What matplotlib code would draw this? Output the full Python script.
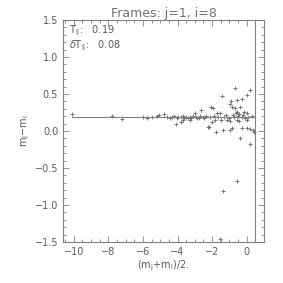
import matplotlib
matplotlib.use('Agg')
import matplotlib.pyplot as plt
import numpy as np
from matplotlib.ticker import MultipleLocator

# data
x_mean = [-10.1, -7.77, -7.19,
          -5.98, -5.75, -5.5, -5.2, -5.05,
          -4.76, -4.6, -4.45, -4.3, -4.2, -4.1, -4.05, -3.95, -3.82, -3.8,
          -3.7, -3.66, -3.6, -3.5, -3.4, -3.3, -3.26, -3.2, -3.1, -2.99,
          -2.95, -2.85, -2.75, -2.7, -2.62, -2.55, -2.45, -2.35, -2.24, -2.2,
          -2.15, -2.05, -2.02, -1.93, -1.9, -1.83, -1.75, -1.73, -1.65, -1.54,
          -1.47, -1.41, -1.39, -1.3, -1.2, -1.12, -1.05, -0.97, -0.97, -0.97,
          -0.91, -0.87, -0.87, -0.8, -0.75, -0.68, -0.68, -0.62, -0.56, -0.54,
          -0.54, -0.5, -0.45, -0.45, -0.39, -0.37, -0.3, -0.27, -0.25, -0.2,
          -0.14, -0.1, 0.0, 0.0, 0.0, 0.02, 0.1, 0.19, 0.21, 0.21, 0.3, 0.35, 0.4,
          -1.35, -0.54, -1.53]
y_diff = [0.23, 0.20, 0.165,
          0.19, 0.18, 0.19, 0.20, 0.22,
          0.23, 0.19, 0.18, 0.19, 0.20, 0.10, 0.18, 0.19, 0.125, 0.19,
          0.20, 0.15, 0.18, 0.19, 0.17, 0.19, 0.15, 0.18, 0.20, 0.25,
          0.19, 0.18, 0.17, 0.20, 0.28, 0.19, 0.17, 0.20, 0.05, 0.05,
          0.19, 0.32, 0.12, 0.31, 0.20, 0.15, -0.01, 0.24, 0.19, 0.25,
          0.15, 0.47, 0.02, 0.19, 0.21, 0.15, 0.18, 0.36, 0.13, 0.01,
          0.40, 0.32, 0.04, 0.22, 0.19, 0.58, 0.31, 0.24, 0.15, 0.42,
          0.26, 0.20, 0.23, 0.13, 0.33, -0.09, 0.19, 0.04, 0.43, 0.21,
          0.26, 0.17, 0.24, 0.15, 0.04, 0.48, 0.19, -0.18, 0.55, 0.03, 0.20, 0.01, -0.01,
          -0.81, -0.68, -1.46]
T_ij = 0.19
dT_ij = 0.08
x_cut = 0.5

gry = '#808080'
txt = '#5a5a5a'
plt.rcParams['font.family'] = 'DejaVu Sans'

fig = plt.figure(figsize=(2.83, 2.83), dpi=100)
ax = fig.add_axes([63/283, 41/283, 201/283, 222/283])

ax.plot(x_mean, y_diff, '+', color='#666666', markersize=3.5, markeredgewidth=0.6)
ax.plot([min(x_mean), max(x_mean)], [T_ij, T_ij], '-', color=gry, linewidth=0.8)
ax.axvline(x_cut, color=gry, linewidth=0.8)

ax.set_xlim(-10.62, 1.0)
ax.set_ylim(-1.5, 1.5)
ax.xaxis.set_major_locator(MultipleLocator(2))
ax.xaxis.set_minor_locator(MultipleLocator(0.5))
ax.yaxis.set_major_locator(MultipleLocator(0.5))
ax.yaxis.set_minor_locator(MultipleLocator(0.1))
ax.tick_params(which='both', direction='in', top=True, right=True, colors=gry,
               labelcolor=txt, labelsize=7, width=0.6)
ax.tick_params(which='major', length=4)
ax.tick_params(which='minor', length=2)
for s in ax.spines.values():
    s.set_color(gry)
    s.set_linewidth(0.8)

ax.set_title('Frames: j=1, i=8', color='#6e6e6e', fontsize=9, pad=2)
ax.set_xlabel(r'(m$_\mathrm{j}$+m$_\mathrm{i}$)/2.', color=txt, fontsize=7, labelpad=1)
ax.set_ylabel(r'm$_\mathrm{j}$$-$m$_\mathrm{i}$', color=txt, fontsize=7, labelpad=2)
ax.text(0.03, 0.94, r'T$_\mathrm{ij}$:   %.2f' % T_ij, transform=ax.transAxes,
        color=txt, fontsize=7)
ax.text(0.03, 0.875, r'$\delta$T$_\mathrm{ij}$:   %.2f' % dT_ij, transform=ax.transAxes,
        color=txt, fontsize=7)

fig.savefig('out.png', dpi=100)
